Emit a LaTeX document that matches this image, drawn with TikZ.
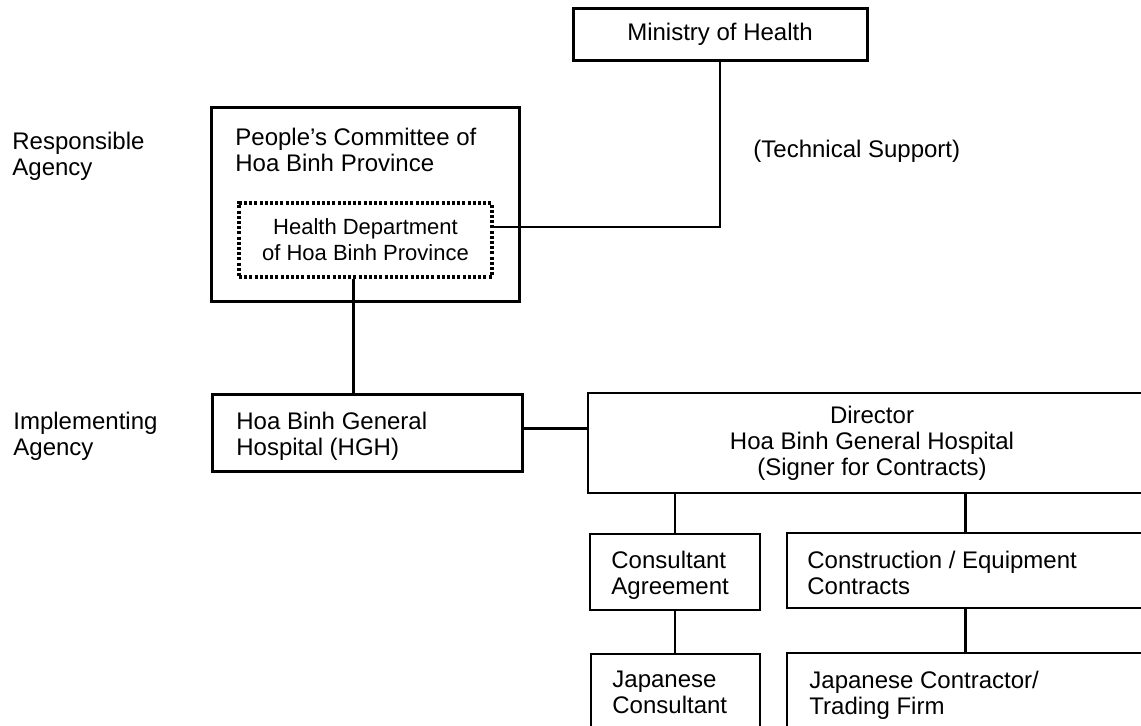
\documentclass[tikz,border=0pt]{standalone}
\usepackage{fontspec}
\setmainfont{Liberation Sans}
\usetikzlibrary{positioning}

\begin{document}
\begin{tikzpicture}[
  x=0.5pt, y=-0.5pt,
  font=\fontsize{12}{13}\selectfont,
  org/.style={draw, line width=1.5pt, inner sep=0pt, align=center},
  sub/.style={draw, line width=1.1pt, inner sep=0pt, align=center},
  dept/.style={draw, dash pattern=on 1.5pt off 1.1pt, line width=1.6pt, inner sep=0pt,
    align=center, font=\fontsize{11}{13}\selectfont},
  lbl/.style={inner sep=0pt, align=left, anchor=north west},
  conn/.style={line width=1.1pt}
]
  \useasboundingbox (0,0) rectangle (1141,726);
  \clip (0,0) rectangle (1141,726);

  % Left labels
  \node[lbl] (resp) at (12,132) {Responsible\\Agency};
  \node[lbl] (impl) at (13,412) {Implementing\\Agency};

  % Ministry
  \node[org, minimum width=147pt, minimum height=26pt] (ministry) at (720,34.5)
    {Ministry of Health};
  \node[inner sep=0pt, anchor=base west] (tech) at (753,158)
    {(Technical Support)};

  % Province
  \node[org, minimum width=154pt, minimum height=97pt] (committee) at (365,205) {};
  \node[lbl] (committeetxt) at (235,128) {People's Committee of\\Hoa Binh Province};
  \node[dept, minimum width=126.5pt, minimum height=37pt] (healthdept) at (365.5,240)
    {Health Department\\of Hoa Binh Province};
  \draw[conn] (ministry.south) |- ([yshift=6.5pt]healthdept.east);

  % Hospital
  \node[org, minimum width=155pt, minimum height=38.5pt] (hgh) at (367,433.5) {};
  \node[lbl] (hghtxt) at (236,412) {Hoa Binh General\\Hospital (HGH)};
  \draw[conn] ([xshift=-6pt]healthdept.south) -- ([xshift=-6pt]healthdept.south |- hgh.north);

  \node[sub, minimum width=284pt, minimum height=50pt] (director) at (872,443)
    {Director\\Hoa Binh General Hospital\\(Signer for Contracts)};
  \draw[conn] ([yshift=2.5pt]hgh.east) -- ([yshift=2.5pt]hgh.east -| director.west);

  % Contracts
  \node[sub, minimum width=85pt, minimum height=38pt] (agreement) at (675,572) {};
  \node[lbl] (agreementtxt) at (611,551) {Consultant\\Agreement};
  \node[sub, minimum width=184.5pt, minimum height=37.5pt] (contracts) at (971.5,570.5) {};
  \node[lbl] (contractstxt) at (807,551) {Construction / Equipment\\Contracts};
  \draw[conn] (agreement.north |- director.south) -- (agreement.north);
  \draw[conn] ([xshift=-3pt]contracts.north |- director.south) -- ([xshift=-3pt]contracts.north);

  % Japanese side
  \node[sub, minimum width=84.5pt, minimum height=43pt] (consultant) at (675.5,697) {};
  \node[lbl] (consultanttxt) at (612,671) {Japanese\\Consultant};
  \node[sub, minimum width=184.5pt, minimum height=43.5pt] (contractor) at (971.5,696.5) {};
  \node[lbl] (contractortxt) at (809,671) {Japanese Contractor/\\Trading Firm};
  \draw[conn] (agreement.south) -- (agreement.south |- consultant.north);
  \draw[conn] ([xshift=-3pt]contracts.south) -- ([xshift=-3pt]contracts.south |- contractor.north);
\end{tikzpicture}
\end{document}
